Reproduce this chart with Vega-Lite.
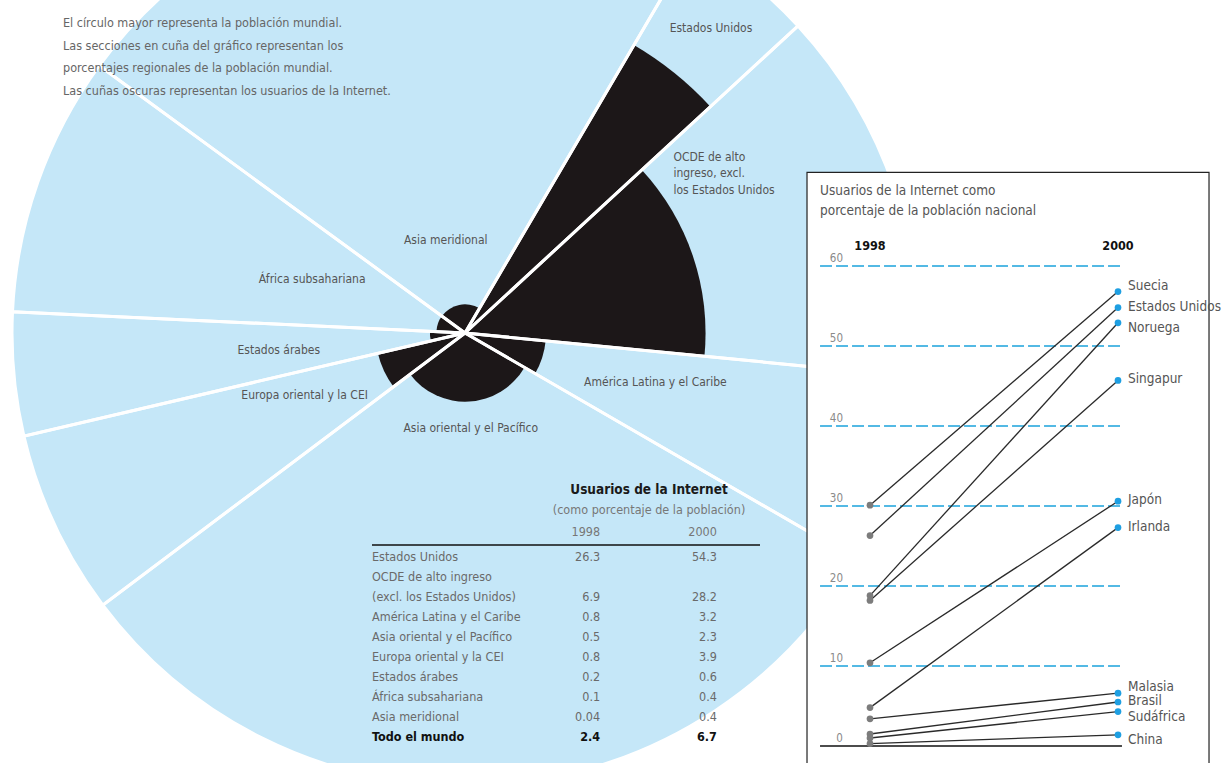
{
  "$schema": "https://vega.github.io/schema/vega-lite/v6.json",
  "width": 930,
  "height": 666,
  "autosize": {"type": "none"},
  "padding": {"left": 0, "top": 0, "right": 292, "bottom": 97},
  "background": "white",
  "config": {
    "view": {"stroke": null},
    "text": {"font": "Liberation Sans Narrow, DejaVu Sans Condensed, Open Sans, sans-serif"},
    "title": {"font": "Liberation Sans Narrow, DejaVu Sans Condensed, Open Sans, sans-serif"}
  },
  "title": {
    "text": [
      "El círculo mayor representa la población mundial.",
      "Las secciones en cuña del gráfico representan los",
      "porcentajes regionales de la población mundial.",
      "Las cuñas oscuras representan los usuarios de la Internet."
    ],
    "anchor": "start",
    "frame": "group",
    "orient": "top",
    "offset": -223,
    "dx": 63,
    "baseline": "top",
    "fontSize": 12.5,
    "fontWeight": "normal",
    "color": "#666666",
    "lineHeight": 22.5
  },
  "datasets": {
    "regiones": [
      {"orden": 1, "region": "Estados Unidos", "etiqueta": "Estados Unidos", "pob": 4.7, "i2000": 54.3},
      {"orden": 2, "region": "OCDE de alto ingreso, excl. los Estados Unidos", "etiqueta": "OCDE de alto\ningreso, excl.\nlos Estados Unidos", "pob": 13.4, "i2000": 28.2},
      {"orden": 3, "region": "América Latina y el Caribe", "etiqueta": "América Latina y el Caribe", "pob": 6.8, "i2000": 3.2},
      {"orden": 4, "region": "Asia oriental y el Pacífico", "etiqueta": "Asia oriental y el Pacífico", "pob": 31.4, "i2000": 2.3},
      {"orden": 5, "region": "Europa oriental y la CEI", "etiqueta": "Europa oriental y la CEI", "pob": 6.6, "i2000": 3.9},
      {"orden": 6, "region": "Estados árabes", "etiqueta": "Estados árabes", "pob": 4.4, "i2000": 0.6},
      {"orden": 7, "region": "África subsahariana", "etiqueta": "África subsahariana", "pob": 9.3, "i2000": 0.4},
      {"orden": 8, "region": "Asia meridional", "etiqueta": "Asia meridional", "pob": 23.4, "i2000": 0.4}
    ],
    "tabla": [
      {"fila": "Estados Unidos", "a": 26.3, "b": 54.3},
      {"fila": "OCDE de alto ingreso"},
      {"fila": "(excl. los Estados Unidos)", "a": 6.9, "b": 28.2},
      {"fila": "América Latina y el Caribe", "a": 0.8, "b": 3.2},
      {"fila": "Asia oriental y el Pacífico", "a": 0.5, "b": 2.3},
      {"fila": "Europa oriental y la CEI", "a": 0.8, "b": 3.9},
      {"fila": "Estados árabes", "a": 0.2, "b": 0.6},
      {"fila": "África subsahariana", "a": 0.1, "b": 0.4},
      {"fila": "Asia meridional", "a": 0.04, "b": 0.4},
      {"fila": "Todo el mundo", "a": 2.4, "b": 6.7}
    ],
    "paises": [
      {"pais": "Suecia", "anio": 1998, "pct": 30.1},
      {"pais": "Suecia", "anio": 2000, "pct": 56.8},
      {"pais": "Estados Unidos", "anio": 1998, "pct": 26.3},
      {"pais": "Estados Unidos", "anio": 2000, "pct": 54.8},
      {"pais": "Noruega", "anio": 1998, "pct": 18.8},
      {"pais": "Noruega", "anio": 2000, "pct": 52.9},
      {"pais": "Singapur", "anio": 1998, "pct": 18.2},
      {"pais": "Singapur", "anio": 2000, "pct": 45.7},
      {"pais": "Japón", "anio": 1998, "pct": 10.4},
      {"pais": "Japón", "anio": 2000, "pct": 30.6},
      {"pais": "Irlanda", "anio": 1998, "pct": 4.8},
      {"pais": "Irlanda", "anio": 2000, "pct": 27.3},
      {"pais": "Malasia", "anio": 1998, "pct": 3.4},
      {"pais": "Malasia", "anio": 2000, "pct": 6.6},
      {"pais": "Brasil", "anio": 1998, "pct": 1.5},
      {"pais": "Brasil", "anio": 2000, "pct": 5.5},
      {"pais": "Sudáfrica", "anio": 1998, "pct": 1.0},
      {"pais": "Sudáfrica", "anio": 2000, "pct": 4.3},
      {"pais": "China", "anio": 1998, "pct": 0.3},
      {"pais": "China", "anio": 2000, "pct": 1.4}
    ],
    "rejilla": [
      {"v": 0}, {"v": 10}, {"v": 20}, {"v": 30}, {"v": 40}, {"v": 50}, {"v": 60}
    ]
  },
  "layer": [
    {
      "data": {"name": "regiones"},
      "transform": [
        {"stack": "pob", "groupby": [], "sort": [{"field": "orden", "order": "ascending"}], "as": ["t0", "t1"]}
      ],
      "layer": [
        {
          "mark": {"type": "arc", "fill": "#c5e7f8"},
          "encoding": {
            "theta": {"field": "t0", "type": "quantitative", "stack": null, "scale": {"domain": [0, 100], "range": [0.5306, 6.8138]}},
            "theta2": {"field": "t1"},
            "radius": {"datum": 100, "type": "quantitative", "scale": {"type": "sqrt", "zero": true, "domain": [0, 100], "range": [0, 453]}}
          }
        },
        {
          "mark": {"type": "arc", "fill": "#1c1718"},
          "encoding": {
            "theta": {"field": "t0", "type": "quantitative", "stack": null},
            "theta2": {"field": "t1"},
            "radius": {"field": "i2000", "type": "quantitative"}
          }
        },
        {
          "mark": {"type": "arc", "filled": false, "stroke": "white", "strokeWidth": 3},
          "encoding": {
            "theta": {"field": "t0", "type": "quantitative", "stack": null},
            "theta2": {"field": "t1"},
            "radius": {"datum": 100, "type": "quantitative"}
          }
        },
        {
          "encoding": {
            "theta": {"field": "pob", "type": "quantitative", "stack": true},
            "order": {"field": "orden", "type": "quantitative"}
          },
          "layer": [
            {
              "mark": {"type": "text", "radius": 392, "fontSize": 12, "color": "#555555"},
              "encoding": {"text": {"condition": {"test": "datum.orden === 1", "field": "etiqueta", "type": "nominal"}, "value": ""}}
            },
            {
              "mark": {"type": "text", "radius": 300, "align": "left", "baseline": "top", "lineBreak": "\n", "lineHeight": 16.5, "dx": -76, "dy": -86, "fontSize": 12, "color": "#555555"},
              "encoding": {"text": {"condition": {"test": "datum.orden === 2", "field": "etiqueta", "type": "nominal"}, "value": ""}}
            },
            {
              "mark": {"type": "text", "radius": 200, "dy": -12, "fontSize": 12, "color": "#555555"},
              "encoding": {"text": {"condition": {"test": "datum.orden === 3", "field": "etiqueta", "type": "nominal"}, "value": ""}}
            },
            {
              "mark": {"type": "text", "radius": 95, "fontSize": 12, "color": "#555555"},
              "encoding": {"text": {"condition": {"test": "datum.orden === 4 || datum.orden === 8", "field": "etiqueta", "type": "nominal"}, "value": ""}}
            },
            {
              "mark": {"type": "text", "radius": 177, "dy": -13, "fontSize": 12, "color": "#555555"},
              "encoding": {"text": {"condition": {"test": "datum.orden === 5", "field": "etiqueta", "type": "nominal"}, "value": ""}}
            },
            {
              "mark": {"type": "text", "radius": 187, "fontSize": 12, "color": "#555555"},
              "encoding": {"text": {"condition": {"test": "datum.orden === 6", "field": "etiqueta", "type": "nominal"}, "value": ""}}
            },
            {
              "mark": {"type": "text", "radius": 162, "fontSize": 12, "color": "#555555"},
              "encoding": {"text": {"condition": {"test": "datum.orden === 7", "field": "etiqueta", "type": "nominal"}, "value": ""}}
            }
          ]
        }
      ]
    },
    {
      "layer": [
        {
          "data": {"values": [{}]},
          "mark": {"type": "rect", "fill": "white", "stroke": "#222222", "strokeWidth": 1.2},
          "encoding": {
            "x": {"datum": 1997.492, "type": "quantitative", "scale": {"domain": [1998, 2000], "range": [870, 1118], "nice": false, "zero": false}, "axis": null},
            "x2": {"datum": 2000.734},
            "y": {"datum": 71.7, "type": "quantitative", "scale": {"domain": [0, 60], "range": [746, 266], "nice": false, "zero": false}, "axis": null},
            "y2": {"datum": -3.5}
          }
        },
        {
          "data": {"name": "rejilla"},
          "transform": [{"filter": "datum.v > 0"}],
          "mark": {"type": "rule", "stroke": "#1ba3dc", "strokeWidth": 1.5, "strokeDash": [12, 4]},
          "encoding": {
            "x": {"datum": 1997.597, "type": "quantitative"},
            "x2": {"datum": 2000.032},
            "y": {"field": "v", "type": "quantitative"}
          }
        },
        {
          "data": {"name": "rejilla"},
          "transform": [{"filter": "datum.v === 0"}],
          "mark": {"type": "rule", "stroke": "#111111", "strokeWidth": 1.5},
          "encoding": {
            "x": {"datum": 1997.597, "type": "quantitative"},
            "x2": {"datum": 2000.032},
            "y": {"field": "v", "type": "quantitative"}
          }
        },
        {
          "data": {"name": "rejilla"},
          "mark": {"type": "text", "align": "right", "baseline": "bottom", "dy": -2, "fontSize": 11.5, "color": "#8a8a8a"},
          "encoding": {
            "x": {"datum": 1997.782, "type": "quantitative"},
            "y": {"field": "v", "type": "quantitative"},
            "text": {"field": "v", "type": "nominal"}
          }
        },
        {
          "data": {"values": [{}]},
          "mark": {"type": "text", "align": "left", "baseline": "top", "lineBreak": "\n", "lineHeight": 20, "fontSize": 13.5, "color": "#555555"},
          "encoding": {
            "x": {"datum": 1997.597, "type": "quantitative"},
            "y": {"datum": 70.3, "type": "quantitative"},
            "text": {"value": "Usuarios de la Internet como\nporcentaje de la población nacional"}
          }
        },
        {
          "data": {"name": "paises"},
          "transform": [{"filter": "datum.pais === 'China'"}],
          "mark": {"type": "text", "fontWeight": "bold", "fontSize": 12.5, "color": "#111111", "baseline": "middle"},
          "encoding": {
            "x": {"field": "anio", "type": "quantitative"},
            "y": {"datum": 62.5, "type": "quantitative"},
            "text": {"field": "anio", "type": "nominal"}
          }
        },
        {
          "data": {"name": "paises"},
          "mark": {"type": "line", "stroke": "#2a2a2a", "strokeWidth": 1.3},
          "encoding": {
            "x": {"field": "anio", "type": "quantitative"},
            "y": {"field": "pct", "type": "quantitative"},
            "detail": {"field": "pais", "type": "nominal"}
          }
        },
        {
          "data": {"name": "paises"},
          "mark": {"type": "circle", "size": 45, "opacity": 1},
          "encoding": {
            "x": {"field": "anio", "type": "quantitative"},
            "y": {"field": "pct", "type": "quantitative"},
            "color": {"field": "anio", "type": "nominal", "scale": {"domain": [1998, 2000], "range": ["#7c7c7c", "#1e9fe2"]}, "legend": null}
          }
        },
        {
          "data": {"name": "paises"},
          "transform": [{"filter": "datum.anio === 2000 && indexof(['Malasia', 'Suecia', 'Sudáfrica', 'China', 'Noruega'], datum.pais) < 0"}],
          "mark": {"type": "text", "align": "left", "baseline": "middle", "dx": 10, "dy": -1, "fontSize": 13.5, "color": "#555555"},
          "encoding": {
            "x": {"field": "anio", "type": "quantitative"},
            "y": {"field": "pct", "type": "quantitative"},
            "text": {"field": "pais", "type": "nominal"}
          }
        },
        {
          "data": {"name": "paises"},
          "transform": [{"filter": "datum.anio === 2000 && (datum.pais === 'Malasia' || datum.pais === 'Suecia')"}],
          "mark": {"type": "text", "align": "left", "baseline": "middle", "dx": 10, "dy": -6, "fontSize": 13.5, "color": "#555555"},
          "encoding": {
            "x": {"field": "anio", "type": "quantitative"},
            "y": {"field": "pct", "type": "quantitative"},
            "text": {"field": "pais", "type": "nominal"}
          }
        },
        {
          "data": {"name": "paises"},
          "transform": [{"filter": "datum.anio === 2000 && (datum.pais === 'Sudáfrica' || datum.pais === 'China' || datum.pais === 'Noruega')"}],
          "mark": {"type": "text", "align": "left", "baseline": "middle", "dx": 10, "dy": 5, "fontSize": 13.5, "color": "#555555"},
          "encoding": {
            "x": {"field": "anio", "type": "quantitative"},
            "y": {"field": "pct", "type": "quantitative"},
            "text": {"field": "pais", "type": "nominal"}
          }
        }
      ]
    },
    {
      "data": {"name": "tabla"},
      "layer": [
        {
          "transform": [{"filter": "datum.fila !== 'Todo el mundo'"}],
          "mark": {"type": "text", "align": "left", "baseline": "middle", "fontSize": 12.5, "color": "#6a6a6a"},
          "encoding": {
            "x": {"datum": 0, "type": "quantitative", "scale": {"domain": [0, 100], "range": [372, 760], "nice": false, "zero": false}, "axis": null},
            "y": {"field": "fila", "type": "nominal", "scale": {"type": "point", "padding": 0, "range": [557, 737], "domain": ["Estados Unidos", "OCDE de alto ingreso", "(excl. los Estados Unidos)", "América Latina y el Caribe", "Asia oriental y el Pacífico", "Europa oriental y la CEI", "Estados árabes", "África subsahariana", "Asia meridional", "Todo el mundo"]}, "axis": null},
            "text": {"field": "fila", "type": "nominal"}
          }
        },
        {
          "transform": [{"filter": "datum.fila === 'Todo el mundo'"}],
          "mark": {"type": "text", "align": "left", "baseline": "middle", "fontSize": 12.5, "fontWeight": "bold", "color": "#111111"},
          "encoding": {
            "x": {"datum": 0, "type": "quantitative"},
            "y": {"field": "fila", "type": "nominal"},
            "text": {"field": "fila", "type": "nominal"}
          }
        },
        {
          "transform": [{"filter": "isValid(datum.a) && datum.fila !== 'Todo el mundo'"}],
          "mark": {"type": "text", "align": "right", "baseline": "middle", "fontSize": 12.5, "color": "#6a6a6a"},
          "encoding": {
            "x": {"datum": 58.8, "type": "quantitative"},
            "y": {"field": "fila", "type": "nominal"},
            "text": {"field": "a", "type": "nominal"}
          }
        },
        {
          "transform": [{"filter": "isValid(datum.b) && datum.fila !== 'Todo el mundo'"}],
          "mark": {"type": "text", "align": "right", "baseline": "middle", "fontSize": 12.5, "color": "#6a6a6a"},
          "encoding": {
            "x": {"datum": 88.9, "type": "quantitative"},
            "y": {"field": "fila", "type": "nominal"},
            "text": {"field": "b", "type": "nominal"}
          }
        },
        {
          "transform": [{"filter": "datum.fila === 'Todo el mundo'"}],
          "mark": {"type": "text", "align": "right", "baseline": "middle", "fontSize": 12.5, "fontWeight": "bold", "color": "#111111"},
          "encoding": {
            "x": {"datum": 58.8, "type": "quantitative"},
            "y": {"field": "fila", "type": "nominal"},
            "text": {"field": "a", "type": "nominal"}
          }
        },
        {
          "transform": [{"filter": "datum.fila === 'Todo el mundo'"}],
          "mark": {"type": "text", "align": "right", "baseline": "middle", "fontSize": 12.5, "fontWeight": "bold", "color": "#111111"},
          "encoding": {
            "x": {"datum": 88.9, "type": "quantitative"},
            "y": {"field": "fila", "type": "nominal"},
            "text": {"field": "b", "type": "nominal"}
          }
        },
        {
          "data": {"values": [{}]},
          "mark": {"type": "text", "align": "center", "baseline": "middle", "dy": -67, "fontSize": 13.5, "fontWeight": "bold", "color": "#1a1a1a"},
          "encoding": {
            "x": {"datum": 71.4, "type": "quantitative"},
            "y": {"datum": "Estados Unidos", "type": "nominal"},
            "text": {"value": "Usuarios de la Internet"}
          }
        },
        {
          "data": {"values": [{}]},
          "mark": {"type": "text", "align": "center", "baseline": "middle", "dy": -47, "fontSize": 12.5, "color": "#777777"},
          "encoding": {
            "x": {"datum": 71.4, "type": "quantitative"},
            "y": {"datum": "Estados Unidos", "type": "nominal"},
            "text": {"value": "(como porcentaje de la población)"}
          }
        },
        {
          "data": {"values": [{}]},
          "mark": {"type": "text", "align": "right", "baseline": "middle", "dy": -25, "fontSize": 12.5, "color": "#777777"},
          "encoding": {
            "x": {"datum": 58.8, "type": "quantitative"},
            "y": {"datum": "Estados Unidos", "type": "nominal"},
            "text": {"value": "1998"}
          }
        },
        {
          "data": {"values": [{}]},
          "mark": {"type": "text", "align": "right", "baseline": "middle", "dy": -25, "fontSize": 12.5, "color": "#777777"},
          "encoding": {
            "x": {"datum": 88.9, "type": "quantitative"},
            "y": {"datum": "Estados Unidos", "type": "nominal"},
            "text": {"value": "2000"}
          }
        },
        {
          "data": {"values": [{}]},
          "mark": {"type": "rule", "stroke": "#111111", "strokeWidth": 1.5, "yOffset": -12},
          "encoding": {
            "x": {"datum": 0, "type": "quantitative"},
            "x2": {"datum": 100},
            "y": {"datum": "Estados Unidos", "type": "nominal"}
          }
        }
      ]
    }
  ],
  "resolve": {"scale": {"x": "independent", "y": "independent"}}
}
